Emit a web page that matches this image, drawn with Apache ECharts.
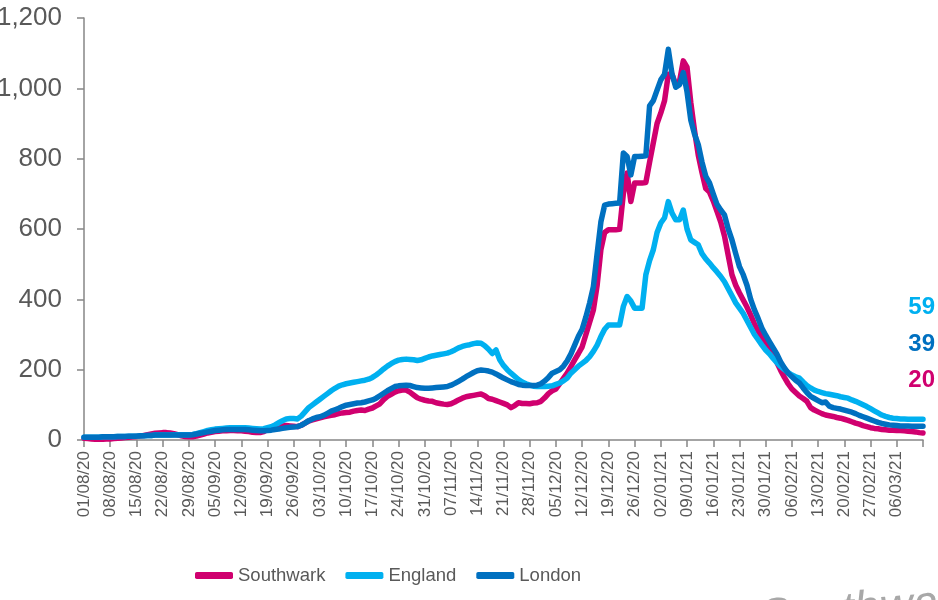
<!DOCTYPE html>
<html>
<head>
<meta charset="utf-8">
<script src="https://cdn.jsdelivr.net/npm/echarts@6/dist/echarts.min.js"></script>
<style>html,body{margin:0;padding:0;background:#fff}#c{width:938px;height:600px}</style>
</head>
<body>
<div id="c"></div>
<script>
// ---- data ----
const START_DATE = [2020, 7, 1]; // 01/08/2020 (month is 0-based)
const DAY_COUNT = 225;            // daily points up to 13/03/21

const TICK_LABELS = ['01/08/20','08/08/20','15/08/20','22/08/20','29/08/20','05/09/20','12/09/20','19/09/20',
  '26/09/20','03/10/20','10/10/20','17/10/20','24/10/20','31/10/20','07/11/20','14/11/20','21/11/20',
  '28/11/20','05/12/20','12/12/20','19/12/20','26/12/20','02/01/21','09/01/21','16/01/21','23/01/21',
  '30/01/21','06/02/21','13/02/21','20/02/21','27/02/21','06/03/21'];

const SERIES_NAMES = ['Southwark', 'England', 'London'];

const SOUTHWARK = [
  5,4,3,2,2,2,3,  3,4,5,6,7,8,9,  10,11,13,15,17,19,20,  21,21,20,18,15,12,10,
  9,9,11,14,17,20,22,  24,25,26,26,27,27,26,  26,25,24,22,21,21,24,  30,34,36,38,40,41,40,
  39,38,42,48,54,57,60,  63,66,68,70,72,75,77,  78,79,82,84,85,84,88,  91,97,103,115,124,130,136,
  140,142,142,136,128,120,116,  113,111,110,106,104,102,101,  103,108,114,119,123,125,127,
  129,131,126,118,116,112,108,  104,100,92,98,106,104,104,  103,105,106,110,120,132,140,
  145,160,175,190,209,228,246,  265,300,335,370,440,541,590,  598,598,598,599,700,759,678,
  731,731,731,732,790,845,900,  930,965,1040,1040,1010,1020,1078,  1060,960,880,810,760,715,705,
  680,650,620,580,525,470,440,  418,398,378,355,330,310,292,  278,265,245,220,198,178,160,
  145,135,125,118,110,92,85,  80,75,71,69,67,64,62,  59,56,52,48,45,41,38,
  35,33,32,30,29,28,28,  27,27,26,25,24,23,21,20
];

const ENGLAND = [
  8,8,8,8,8,9,9,  9,9,10,10,10,11,11,  11,12,12,13,13,14,14,  14,14,14,15,15,15,15,
  15,16,18,21,24,27,29,  31,32,33,34,35,35,35,  35,35,34,33,32,31,32,  35,38,43,49,55,60,61,
  61,60,68,80,92,100,108,  116,124,132,140,147,153,157,  160,162,164,166,168,170,173,  178,185,193,202,210,217,223,
  227,229,230,229,228,226,228,  232,236,239,241,243,245,247,  251,256,262,266,269,271,274,
  276,275,268,258,246,256,228,  212,200,190,181,172,165,160,  156,153,152,152,152,153,154,
  158,162,168,176,190,200,210,  218,226,237,252,270,294,315,  327,327,327,327,380,408,395,
  375,375,375,470,510,541,590,  617,632,678,645,626,626,654,  600,569,562,555,530,515,503,
  490,478,465,450,430,410,390,  375,360,340,320,300,285,270,  256,245,232,220,209,200,192,
  185,180,176,165,155,148,142,  138,135,132,130,128,126,123,  121,119,114,110,105,100,95,
  89,83,77,71,67,64,62,  61,60,60,59,59,59,59,59
];

const LONDON = [
  8,8,8,8,8,9,9,  9,9,10,10,10,11,11,  11,12,12,13,13,14,14,  14,14,14,14,14,14,14,
  14,15,17,19,21,23,25,  27,28,29,30,30,30,30,  30,30,29,28,27,26,26,  27,28,30,31,33,35,36,
  37,38,42,48,55,60,64,  66,70,76,82,86,90,95,  99,101,103,105,106,108,111,  114,119,126,133,140,146,152,
  154,155,156,155,152,149,148,  147,147,148,149,150,151,152,  156,161,167,173,180,186,192,
  197,199,198,196,193,188,182,  176,171,166,162,158,156,155,  155,155,156,160,168,178,190,
  195,200,210,225,245,270,295,  315,350,390,436,530,620,668,  671,672,673,674,816,806,754,
  806,806,807,808,950,965,995,  1024,1040,1111,1040,1003,1010,1045,  990,910,870,840,790,750,731,
  700,670,654,640,600,569,530,  493,470,440,400,370,345,318,  298,280,262,244,222,205,190,
  180,170,162,148,135,124,118,  112,106,108,96,92,90,88,  85,82,79,75,70,66,62,
  58,54,50,47,45,43,42,  41,40,40,40,39,39,39,39
];

const Y_MIN = 0, Y_MAX = 1200, Y_STEP = 200;

// ---- build categories (daily dates) ----
function pad(n){ return (n < 10 ? '0' : '') + n; }
const CATEGORIES = [];
for (let i = 0; i < DAY_COUNT; i++) {
  const d = new Date(Date.UTC(START_DATE[0], START_DATE[1], START_DATE[2] + i));
  CATEGORIES.push(pad(d.getUTCDate()) + '/' + pad(d.getUTCMonth() + 1) + '/' + String(d.getUTCFullYear()).slice(2));
}
const TICK_SET = new Set(TICK_LABELS);

const COLORS = { Southwark: '#D0006F', England: '#00B0F0', London: '#0070C0' };
const FONT = "'Liberation Sans', Arial, sans-serif";
const AXIS_GREY = '#868686';
const TEXT_GREY = '#595959';

const seriesData = { Southwark: SOUTHWARK, England: ENGLAND, London: LONDON };

const chart = echarts.init(document.getElementById('c'), null, { renderer: 'canvas' });

const last = arr => arr[arr.length - 1];

chart.setOption({
  animation: false,
  backgroundColor: '#ffffff',
  textStyle: { fontFamily: FONT },
  grid: { left: 84, right: 15, top: 18, bottom: 160, containLabel: false, outerBoundsMode: 'none' },
  legend: {
    data: SERIES_NAMES,
    left: 190, top: 561,
    itemWidth: 38, itemHeight: 7, itemGap: 20,
    icon: 'roundRect',
    textStyle: { fontSize: 18.5, color: TEXT_GREY, fontFamily: FONT }
  },
  xAxis: {
    type: 'category',
    data: CATEGORIES,
    boundaryGap: false,
    axisLine: { lineStyle: { color: AXIS_GREY, width: 1.5 } },
    axisTick: { show: true, length: 7, interval: (idx) => idx % 7 === 0, lineStyle: { color: AXIS_GREY, width: 1.5 } },
    axisLabel: {
      rotate: 90, fontSize: 17, color: TEXT_GREY, margin: 11, fontFamily: FONT,
      interval: (idx, val) => TICK_SET.has(val)
    },
    splitLine: { show: false }
  },
  yAxis: {
    type: 'value',
    min: Y_MIN, max: Y_MAX, interval: Y_STEP,
    axisLine: { show: true, lineStyle: { color: AXIS_GREY, width: 1.5 } },
    axisTick: { show: true, length: 7, lineStyle: { color: AXIS_GREY, width: 1.5 } },
    axisLabel: { fontSize: 26, color: TEXT_GREY, margin: 22, fontFamily: FONT,
      formatter: v => v.toLocaleString('en-US') },
    splitLine: { show: false }
  },
  series: SERIES_NAMES.map((name, k) => ({
    name,
    type: 'line',
    data: seriesData[name],
    symbol: 'none',
    showSymbol: false,
    smooth: false,
    z: 2 + k,
    itemStyle: { color: COLORS[name] },
    lineStyle: { color: COLORS[name], width: 5.5, join: 'round', cap: 'round' }
  })),
  graphic: [
    { type: 'text', right: 3, top: 295, z: 10,
      style: { text: String(last(ENGLAND)), fill: COLORS.England, font: 'bold 24px ' + FONT } },
    { type: 'text', right: 3, top: 332, z: 10,
      style: { text: String(last(LONDON)), fill: COLORS.London, font: 'bold 24px ' + FONT } },
    { type: 'text', right: 3, top: 368, z: 10,
      style: { text: String(last(SOUTHWARK)), fill: COLORS.Southwark, font: 'bold 24px ' + FONT } },
    { type: 'text', left: 758, top: 578, z: 1, rotation: 0.08,
      style: { text: 'Southwark', fill: '#a8a8a8', font: 'italic 46px ' + FONT } }
  ]
});
</script>
</body>
</html>
